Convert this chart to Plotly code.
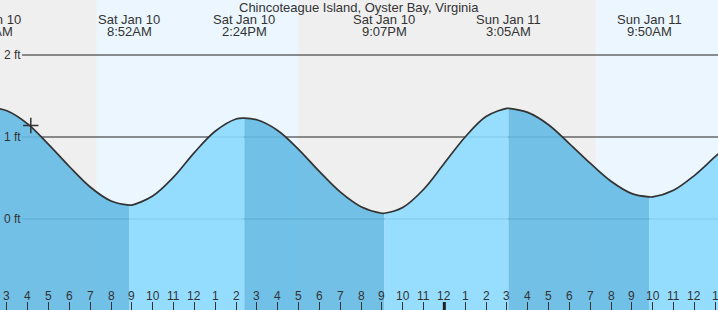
import plotly.graph_objects as go

# ---------------- data ----------------
TITLE = "Chincoteague Island, Oyster Bay, Virginia"

# tide extremes (hours since Sat Jan 10 00:00, feet)
event_times = [2.2, 8.867, 14.4, 21.117, 27.083, 33.833]
event_heights = [1.36, 0.17, 1.23, 0.07, 1.35, 0.27]
event_days = ["Sat Jan 10", "Sat Jan 10", "Sat Jan 10", "Sat Jan 10", "Sun Jan 11", "Sun Jan 11"]
event_clock = ["2:12AM", "8:52AM", "2:24PM", "9:07PM", "3:05AM", "9:50AM"]

# hourly tide heights
hour_times = list(range(3, 39))
hour_heights = [1.32, 1.16, 0.91, 0.64, 0.39, 0.22, 0.17, 0.28, 0.51, 0.81,
                1.07, 1.22, 1.21, 1.08, 0.85, 0.58, 0.33, 0.15, 0.07, 0.14,
                0.36, 0.68, 1.00, 1.25, 1.35, 1.30, 1.15, 0.92, 0.68, 0.46,
                0.31, 0.27, 0.35, 0.53, 0.76, 0.98]

# sunrise / sunset (hours)
sunrise_1, sunset_1, sunrise_2 = 7.32, 16.99, 31.27

# current-time marker
now_t = [4.15]
now_h = [1.14]

# axis labels
tick_hours = list(range(3, 38))
tick_labels = [str((h % 12) or 12) for h in tick_hours]
midnight = [24]
ft_levels = [2, 1, 0]
ft_labels = ["2 ft", "1 ft", "0 ft"]

# ---------------- styles ----------------
X0, X1 = 2.672, 37.136
Y0, Y1 = -1.110, 2.671
W, H = 718, 310
FONT = "Liberation Sans, Arial, sans-serif"
TXT = "#333333"
NIGHT = "#efefef"
DAY = "#ebf6fe"
RISE = "rgba(140,218,255,0.9)"
FALL = "rgba(100,186,228,0.9)"
LINE = "#333333"

fig = go.Figure()

# merged curve points
pts = sorted(list(zip(event_times, event_heights)) + list(zip(hour_times, hour_heights)))
bounds = event_times + [hour_times[-1]]

BASE = Y0 - 1
for i in range(len(bounds) - 1):
    a, b = bounds[i], bounds[i + 1]
    seg = [(t, h) for t, h in pts if a <= t <= b]
    xs = [p[0] for p in seg]
    ys = [p[1] for p in seg]
    color = FALL if ys[-1] < ys[0] else RISE
    fig.add_trace(go.Scatter(x=xs, y=[BASE] * len(xs), mode="lines",
                             line=dict(width=0), hoverinfo="skip", showlegend=False))
    fig.add_trace(go.Scatter(x=xs, y=ys, mode="lines", fill="tonexty", fillcolor=color,
                             line=dict(width=0, shape="spline"), hoverinfo="skip",
                             showlegend=False))

fig.add_trace(go.Scatter(x=[p[0] for p in pts], y=[p[1] for p in pts], mode="lines",
                         line=dict(color=LINE, width=1.7, shape="spline"),
                         hoverinfo="skip", showlegend=False))

fig.add_trace(go.Scatter(x=now_t, y=now_h, mode="markers",
                         marker=dict(symbol="cross-thin", size=11,
                                     line=dict(color=LINE, width=1.5)),
                         hoverinfo="skip", showlegend=False))

shapes = []
# background night/day
for (a, b, c) in [(X0 - 5, sunrise_1, NIGHT), (sunrise_1, sunset_1, DAY),
                  (sunset_1, sunrise_2, NIGHT), (sunrise_2, X1 + 5, DAY)]:
    shapes.append(dict(type="rect", xref="x", yref="paper", x0=a, x1=b, y0=0, y1=1,
                       fillcolor=c, line=dict(width=0), layer="below"))
for lv in ft_levels:
    shapes.append(dict(type="line", xref="paper", yref="y", x0=22 / W, x1=1, y0=lv, y1=lv,
                       line=dict(color="#222222", width=1), layer="below"))
for m in midnight:
    shapes.append(dict(type="line", xref="x", yref="paper", x0=m, x1=m, y0=0, y1=8 / H,
                       line=dict(color="#222222", width=3), layer="above"))

ann = []
ann.append(dict(text=TITLE, xref="paper", yref="paper", x=0.5, y=1 - 7.5 / H,
                xanchor="center", yanchor="middle", showarrow=False,
                font=dict(family=FONT, size=13, color=TXT)))
for t, d, c in zip(event_times, event_days, event_clock):
    xp = (t - X0) / (X1 - X0)
    ann.append(dict(text=d, xref="paper", yref="paper", x=xp, y=1 - 19.5 / H,
                    xanchor="center", yanchor="middle", showarrow=False,
                    font=dict(family=FONT, size=13, color=TXT)))
    ann.append(dict(text=c, xref="paper", yref="paper", x=xp, y=1 - 31.5 / H,
                    xanchor="center", yanchor="middle", showarrow=False,
                    font=dict(family=FONT, size=13, color=TXT)))
for h, lab in zip(tick_hours, tick_labels):
    ann.append(dict(text=lab, xref="x", yref="paper", x=h, y=1 - 295.5 / H,
                    xanchor="center", yanchor="middle", showarrow=False,
                    font=dict(family=FONT, size=12, color=TXT)))
for lv, lab in zip(ft_levels, ft_labels):
    ann.append(dict(text=lab, xref="paper", yref="y", x=1.5 / W, y=lv,
                    xanchor="left", yanchor="middle", showarrow=False,
                    font=dict(family=FONT, size=12, color=TXT)))

fig.update_layout(
    width=W, height=H, margin=dict(l=0, r=0, t=0, b=0),
    paper_bgcolor="white", plot_bgcolor="white",
    xaxis=dict(range=[X0, X1], showgrid=False, zeroline=False, showline=False,
               ticks="inside", tickvals=tick_hours, ticklen=8, tickwidth=1,
               tickcolor="#333333", showticklabels=False, fixedrange=True),
    yaxis=dict(range=[Y0, Y1], visible=False, fixedrange=True),
    shapes=shapes, annotations=ann, showlegend=False,
)

fig.write_html("out.html", config={"displayModeBar": False})
